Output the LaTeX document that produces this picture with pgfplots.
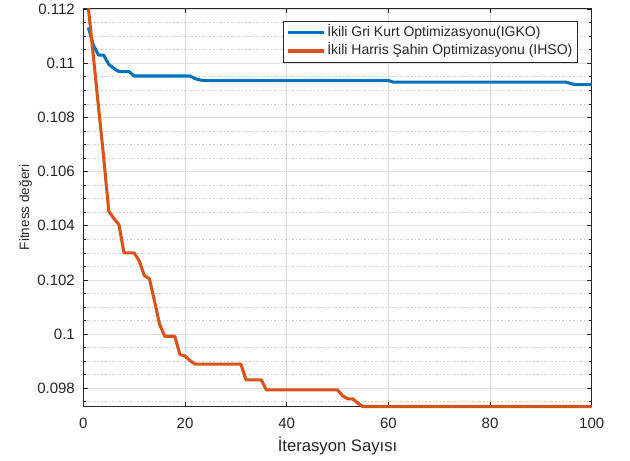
\documentclass[border=0pt]{standalone}
\usepackage{fontspec}
\setmainfont{Liberation Sans}
\usepackage{pgfplots}
\pgfplotsset{compat=1.18}
\definecolor{mblue}{rgb}{0,0.447,0.741}
\definecolor{morange}{rgb}{0.85,0.325,0.098}
\definecolor{axgray}{rgb}{0.15,0.15,0.15}
\begin{document}
\begin{tikzpicture}
\begin{axis}[
  name=ax,
  width=381.3pt, height=298.8pt, scale only axis,
  xmin=0, xmax=100, ymin=0.09732, ymax=0.11203,
  clip=false,
  xtick={0,20,40,60,80,100},
  ytick={0.098,0.1,0.102,0.104,0.106,0.108,0.11,0.112},
  yticklabels={0.098,0.1,0.102,0.104,0.106,0.108,0.11,0.112},
  minor ytick={0.0975,0.0985,0.099,0.0995,0.1005,0.101,0.1015,0.1025,0.103,0.1035,0.1045,0.105,0.1055,0.1065,0.107,0.1075,0.1085,0.109,0.1095,0.1105,0.111,0.1115},
  xmajorgrids, ymajorgrids, yminorgrids,
  major grid style={draw=black!13, line width=0.5pt},
  minor grid style={draw=black!20, line width=0.45pt, dash pattern=on 1.2pt off 1.5pt},
  axis line style={draw=axgray, line width=0.55pt},
  tick style={draw=axgray, line width=0.5pt},
  major tick length=3.75pt, minor tick length=2.2pt,
  tick align=inside,
  scaled y ticks=false,
  /pgf/number format/assume math mode=true,
  ticklabel style={font=\fontsize{11.25}{13}\selectfont, text=axgray},
  xticklabel style={anchor=north, inner sep=0pt, yshift=-8.4pt},
  yticklabel style={anchor=east, inner sep=0pt, xshift=-6.2pt},
  xlabel={İterasyon Sayısı},
  ylabel={Fitness değeri},
  xlabel style={at={(axis description cs:0.5,0)}, anchor=base, inner sep=0pt, yshift=-33.75pt, font=\fontsize{12.5}{14}\selectfont, text=axgray},
  ylabel style={at={(axis description cs:-0.1137,0.5)}, rotate=0, anchor=center, inner sep=0pt, font=\fontsize{10.2}{12}\selectfont, text=axgray},
  legend style={at={(axis description cs:0.9731,0.9681)}, anchor=north east,
    draw=axgray, line width=0.5pt, fill=white,
    font=\fontsize{10.5}{12}\selectfont, text=axgray,
    inner xsep=2.5pt, inner ysep=1.25pt, row sep=0pt,
    nodes={inner ysep=1.4pt, inner xsep=1.5pt, text height=8.5pt, text depth=2.7pt}},
  legend cell align=left,
  legend image code/.code={\draw[#1] (0pt,0pt) -- (27pt,0pt);},
]
\addplot[mblue, line width=2.3pt, line join=round] table {
1 0.11132
2 0.11065
3 0.11030
4 0.11030
5 0.10996
6 0.10981
7 0.10969
9 0.10969
10 0.10953
21 0.10953
22 0.10943
23 0.10938
24 0.10936
60 0.10936
61 0.10930
95 0.10930
96 0.10924
97 0.10921
100 0.10921
};
\addlegendentry{İkili Gri Kurt Optimizasyonu(IGKO)}
\addplot[morange, line width=2.3pt, line join=round] table {
1 0.11203
2 0.11021
3 0.10836
4 0.10653
5 0.10454
6 0.10427
7 0.10404
8 0.10300
9 0.10300
10 0.10300
11 0.10270
12 0.10216
13 0.10204
14 0.10122
15 0.10036
16 0.09992
17 0.09992
18 0.09992
19 0.09924
20 0.09919
21 0.09902
22 0.09889
31 0.09889
32 0.09831
35 0.09831
36 0.09794
50 0.09794
51 0.09772
52 0.09761
53 0.09761
54 0.09745
55 0.09732
100 0.09732
};
\addlegendentry{İkili Harris Şahin Optimizasyonu (IHSO)}
\end{axis}
\pgfresetboundingbox
\path[use as bounding box] ([xshift=-62.5pt,yshift=-40.7pt]ax.south west) rectangle ([xshift=28.7pt,yshift=6.2pt]ax.north east);
\end{tikzpicture}
\end{document}
